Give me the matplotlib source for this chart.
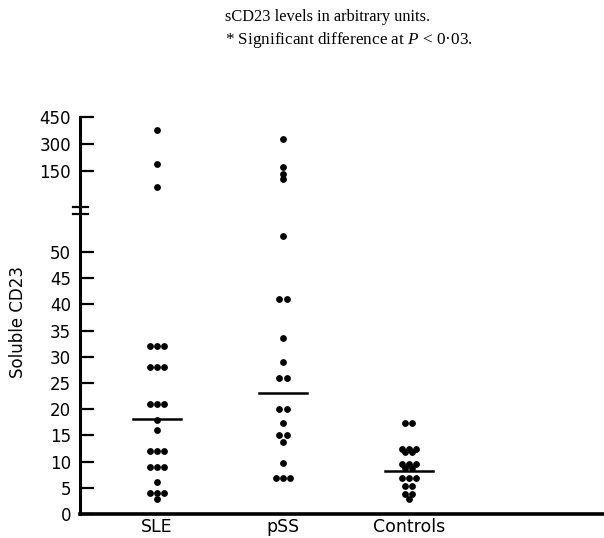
import numpy as np
import matplotlib.pyplot as plt
from matplotlib.lines import Line2D

plt.rcParams['font.family'] = ['DejaVu Sans']
plt.rcParams['mathtext.fontset'] = 'custom'
plt.rcParams['mathtext.it'] = 'Liberation Serif:italic'
plt.rcParams['mathtext.rm'] = 'Liberation Serif'

# Data ----------------------------------------------------------------
groups = ['SLE', 'pSS', 'Controls']
sle_low = [32, 32, 32, 28, 28, 28, 21, 21, 21, 18, 16, 12, 12, 12,
           9, 9, 9, 6.2, 4, 4, 4, 2.9]
sle_high = [378, 189, 61]
pss_low = [53, 41, 41, 33.5, 29, 26, 26, 20, 20, 17.3, 15, 15, 13.7,
           9.7, 6.8, 6.8, 6.8]
pss_high = [328, 174, 132, 106]
ctrl_low = [17.4, 17.4, 12.4, 12.4, 12.4, 11.8, 11.8, 9.5, 9.5, 9.5,
            8.8, 8.8, 6.8, 6.8, 6.8, 5.3, 5.3, 3.9, 3.9, 2.8]
ctrl_high = []
medians = [18.1, 23.1, 8.3]

low_ticks = [0, 5, 10, 15, 20, 25, 30, 35, 40, 45, 50]
high_ticks = [150, 300, 450]


def spread(values, center, step=0.056):
    # put equal values side by side
    xs, ys = [], []
    vals = np.array(values, dtype=float)
    for v in np.unique(vals):
        n = int(np.sum(vals == v))
        offs = (np.arange(n) - (n - 1) / 2) * step
        xs.extend(center + offs)
        ys.extend([v] * n)
    return xs, ys


W, H = 604, 538
fig = plt.figure(figsize=(W / 100, H / 100), dpi=100)

x0 = 80 / W
ax = fig.add_axes([x0, (H - 514) / H, 1 - x0, 300 / H])
axu = fig.add_axes([x0, (H - 207) / H, 1 - x0, 90 / H])

xlim = (0.389, 4.548)
pos = [1, 2, 3]

for a in (ax, axu):
    a.set_xlim(*xlim)
    for s in ('top', 'right'):
        a.spines[s].set_visible(False)
    a.spines['left'].set_linewidth(2.2)
    a.tick_params(axis='y', direction='in', length=10, width=1.6,
                  pad=6.5, labelsize=12)

ax.spines['bottom'].set_linewidth(2.6)
axu.spines['bottom'].set_visible(False)
axu.set_xticks([])

ax.set_ylim(0, 57.25)
ax.set_yticks(low_ticks)
axu.set_ylim(-50, 450)
axu.set_yticks(high_ticks)

ax.set_xticks(pos)
ax.set_xticklabels(groups)
ax.tick_params(axis='x', length=0, pad=3, labelsize=12.5)

for p, lo, hi in zip(pos, [sle_low, pss_low, ctrl_low],
                     [sle_high, pss_high, ctrl_high]):
    xs, ys = spread(lo, p)
    ax.scatter(xs, ys, s=24, color='black', linewidths=0, zorder=3)
    if hi:
        xs, ys = spread(hi, p)
        axu.scatter(xs, ys, s=24, color='black', linewidths=0, zorder=3)

for p, m in zip(pos, medians):
    ax.plot([p - 0.19, p + 0.19], [m, m], color='black', lw=1.8, zorder=4)

# axis break marks
for yb in (207, 214):
    fig.add_artist(Line2D([73 / W, 88 / W], [(H - yb) / H] * 2,
                          color='black', lw=1.6))
fig.add_artist(Line2D([x0, x0], [(H - 214) / H, (H - 207) / H],
                      color='black', lw=2.2))

fig.text(18 / W, (H - 322) / H, 'Soluble CD23', rotation=90,
         ha='center', va='center', fontsize=12)

fig.text(225 / W, (H - 17) / H, 'sCD23 levels in arbitrary units.',
         ha='left', va='center', fontsize=11.8, family='Liberation Serif')
fig.text(225 / W, (H - 40) / H,
         '* Significant difference at $P$ < 0\u00b703.',
         ha='left', va='center', fontsize=12.3, family='Liberation Serif')

fig.savefig('out.png', dpi=100)
